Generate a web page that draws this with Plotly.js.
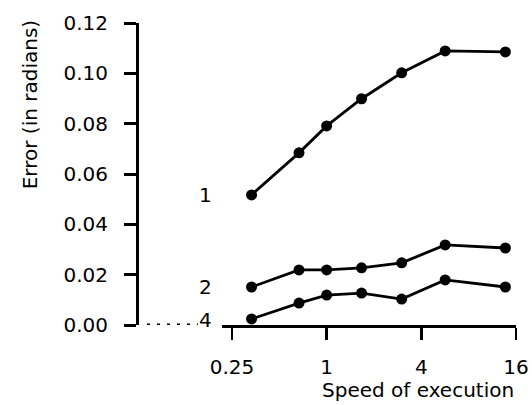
<!DOCTYPE html>
<html><head><meta charset="utf-8">
<script src="https://cdn.plot.ly/plotly-3.0.1.min.js"></script>
<style>html,body{margin:0;padding:0;background:#fff}#chart{width:532px;height:405px}</style>
</head><body><div id="chart"></div>
<script>
const speed = [0.333, 0.667, 1, 1.667, 3, 5.67, 13.7];
const err1 = [0.0517, 0.0684, 0.0791, 0.0899, 0.1002, 0.1089, 0.1085];
const err2 = [0.0151, 0.0219, 0.0219, 0.0227, 0.0247, 0.0318, 0.0306];
const err4 = [0.0024, 0.0087, 0.0119, 0.0127, 0.0103, 0.0179, 0.0151];
const seriesNames = ['1', '2', '4'];
const xTicks = [0.25, 1, 4, 16];
const xTickText = ['0.25', '1', '4', '16'];
const yTicks = [0, 0.02, 0.04, 0.06, 0.08, 0.10, 0.12];
const xTitle = 'Speed of execution';
const yTitle = 'Error (in radians)';

const FONT = 'DejaVu Sans, sans-serif';
const series = [err1, err2, err4];
const traces = series.map((ys, i) => ({
  x: speed, y: ys, type: 'scatter', mode: 'lines+markers', name: seriesNames[i],
  line: {color: '#000', width: 2.8},
  marker: {color: '#000', size: 11, symbol: 'circle'},
  cliponaxis: false,
  showlegend: false, hoverinfo: 'skip'
}));

const annotations = series.map((ys, i) => ({
  x: Math.log10(speed[0]), y: ys[0], xref: 'x', yref: 'y',
  text: seriesNames[i], showarrow: false, xanchor: 'right', yanchor: 'middle',
  xshift: -38, yshift: i === 2 ? -1 : 0, font: {family: FONT, size: 20, color: '#000'}
}));
annotations.push({
  xref: 'paper', yref: 'paper', x: 1, y: -0.215, xanchor: 'right', yanchor: 'middle',
  text: xTitle, showarrow: false, font: {family: FONT, size: 20, color: '#000'}
});
annotations.push({
  xref: 'paper', yref: 'paper', x: -0.282, y: 0.728, xanchor: 'center', yanchor: 'middle',
  text: yTitle, textangle: -90, showarrow: false, font: {family: FONT, size: 20, color: '#000'}
});

const layout = {
  width: 532, height: 405,
  margin: {l: 137, r: 16, t: 23, b: 80},
  paper_bgcolor: '#fff', plot_bgcolor: '#fff',
  font: {family: FONT, size: 20, color: '#000'},
  showlegend: false,
  xaxis: {
    type: 'log', domain: [0.2243, 1],
    range: [Math.log10(0.216), Math.log10(16)],
    tickvals: xTicks, ticktext: xTickText,
    showline: true, linecolor: '#000', linewidth: 2.5,
    ticks: 'outside', ticklen: 12, tickwidth: 2.5, tickcolor: '#000',
    ticklabelstandoff: 10,
    showgrid: false, zeroline: false, anchor: 'y',
    tickfont: {family: FONT, size: 20, color: '#000'}
  },
  yaxis: {
    anchor: 'free', position: 0,
    range: [0, 0.12],
    tickvals: yTicks, tickformat: '.2f',
    showline: true, linecolor: '#000', linewidth: 3,
    ticks: 'outside', ticklen: 12, tickwidth: 3, tickcolor: '#000',
    ticklabelstandoff: 12,
    showgrid: false, zeroline: false,
    tickfont: {family: FONT, size: 20, color: '#000'}
  },
  shapes: [{
    type: 'line', xref: 'paper', yref: 'y',
    x0: 0.0264, x1: 0.161, y0: 0, y1: 0,
    line: {color: '#000', width: 3, dash: '3px,7px'}
  }],
  annotations: annotations
};

Plotly.newPlot('chart', traces, layout, {displayModeBar: false, staticPlot: true});
</script>
</body></html>
